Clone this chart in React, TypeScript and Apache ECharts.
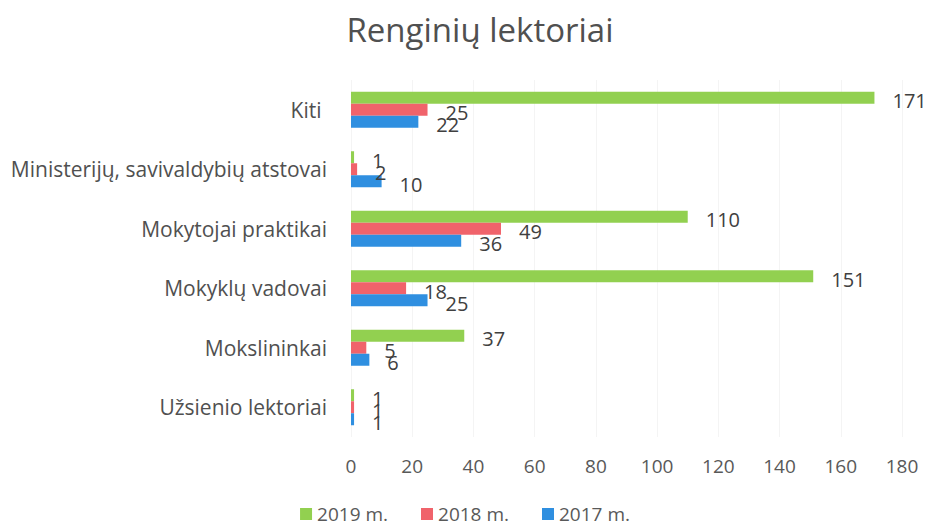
import React, { useEffect, useRef } from "react";
import * as echarts from "echarts";

const categories = [
  "Kiti ",
  "Ministerijų, savivaldybių atstovai",
  "Mokytojai praktikai",
  "Mokyklų vadovai",
  "Mokslininkai",
  "Užsienio lektoriai",
];
const values2019 = [171, 1, 110, 151, 37, 1];
const values2018 = [25, 2, 49, 18, 5, 1];
const values2017 = [22, 10, 36, 25, 6, 1];
const seriesNames = ["2019 m.", "2018 m.", "2017 m."];
const colors = ["#92d050", "#f0636b", "#2f8fe0"];

export default function App() {
  const ref = useRef<HTMLDivElement>(null);
  useEffect(() => {
    if (!ref.current) return;
    const chart = echarts.init(ref.current, null, { renderer: "svg" });
    const font = "Open Sans, Liberation Sans, sans-serif";
    const label = {
      show: true,
      position: "right" as const,
      distance: 18,
      color: "#404040",
      fontSize: 20,
      fontFamily: font,
      offset: [0, 3],
    };
    const data = [values2019, values2018, values2017];
    chart.setOption({
      animation: false,
      textStyle: { fontFamily: font },
      title: {
        text: "Renginių lektoriai",
        left: 475,
        textAlign: "center",
        top: 8,
        textStyle: { fontSize: 33, fontWeight: "normal", color: "#505050", fontFamily: font },
      },
      legend: {
        top: 504,
        left: "center",
        padding: 0,
        itemWidth: 12,
        itemHeight: 12,
        itemGap: 33,
        icon: "rect",
        textStyle: { fontSize: 19, lineHeight: 20, color: "#595959", fontFamily: font },
        data: seriesNames,
      },
      grid: { left: 351, right: 28, top: 80, bottom: 91, containLabel: false },
      xAxis: {
        type: "value",
        min: 0,
        max: 180,
        interval: 20,
        axisLine: { show: false },
        axisTick: { show: false },
        splitLine: { show: true, lineStyle: { color: "#f4f4f4" } },
        axisLabel: { fontSize: 19, color: "#595959", margin: 19, fontFamily: font },
      },
      yAxis: {
        type: "category",
        data: categories,
        inverse: true,
        axisLine: { show: false },
        axisTick: { show: false },
        axisLabel: { fontSize: 21, color: "#505050", margin: 24, fontFamily: font },
      },
      series: seriesNames.map((name, i) => ({
        name,
        type: "bar",
        data: data[i],
        barWidth: 12,
        barGap: "0%",
        itemStyle: { color: colors[i] },
        label,
      })),
    });
    return () => chart.dispose();
  }, []);
  return (
    <div
      ref={ref}
      style={{ position: "absolute", left: 0, top: 0, width: 930, height: 528, background: "#fff" }}
    />
  );
}
